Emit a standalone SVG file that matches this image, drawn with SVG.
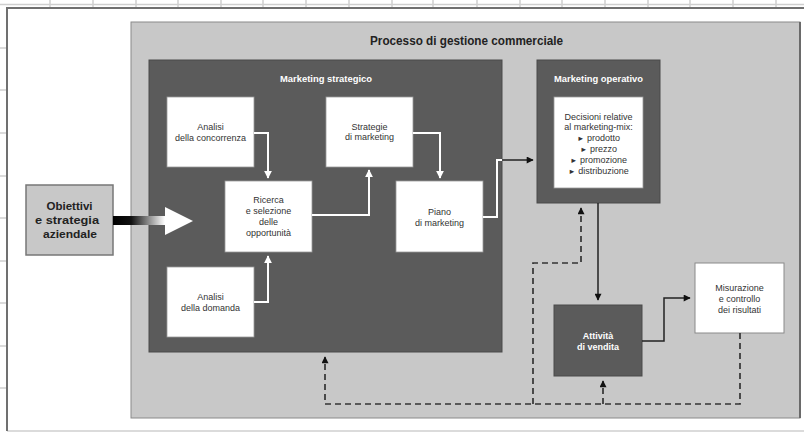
<svg xmlns="http://www.w3.org/2000/svg" width="804" height="433" viewBox="0 0 804 433">
  <style>
    .grid { stroke: #cfcfcf; stroke-width: 1.5; fill: none; }
    .frame { stroke: #707070; stroke-width: 2; fill: none; }
    .panel { fill: #c8c8c8; stroke: #8a8a8a; stroke-width: 1; }
    .dark { fill: #5b5b5b; stroke: #4a4a4a; stroke-width: 1; }
    .white { fill: #ffffff; stroke: #9a9a9a; stroke-width: 0.8; }
    .t { font-family: "Liberation Sans", Arial, sans-serif; font-size: 9px; fill: #333333; text-anchor: middle; }
    .tw { font-family: "Liberation Sans", Arial, sans-serif; font-size: 9px; font-weight: bold; fill: #ffffff; text-anchor: middle; }
    .tb { font-family: "Liberation Sans", Arial, sans-serif; font-weight: bold; fill: #222222; text-anchor: middle; }
    .wl { stroke: #ffffff; stroke-width: 2; fill: none; }
    .bl { stroke: #222222; stroke-width: 1.5; fill: none; }
    .dl { stroke: #333333; stroke-width: 1.7; fill: none; stroke-dasharray: 6 4; }
  </style>
  <defs>
    <marker id="arrW" viewBox="0 0 10 10" refX="9" refY="5" markerWidth="8" markerHeight="8" markerUnits="userSpaceOnUse" orient="auto">
      <path d="M0,0 L10,5 L0,10 z" fill="#ffffff"/>
    </marker>
    <marker id="arrB" viewBox="0 0 10 10" refX="9" refY="5" markerWidth="8" markerHeight="7" markerUnits="userSpaceOnUse" orient="auto">
      <path d="M0,0 L10,5 L0,10 z" fill="#111111"/>
    </marker>
    <linearGradient id="fade" x1="113" y1="0" x2="165" y2="0" gradientUnits="userSpaceOnUse">
      <stop offset="0" stop-color="#000000"/>
      <stop offset="0.35" stop-color="#111111"/>
      <stop offset="1" stop-color="#ffffff"/>
    </linearGradient>
  </defs>

  <!-- sheet background and grid -->
  <rect x="0" y="0" width="804" height="433" fill="#ffffff"/>
  <g id="grid">
    <line class="grid" x1="0" y1="4.5" x2="804" y2="4.5"/>
    <path class="grid" d="M50,0V9 M93,0V9 M136,0V9 M178,0V9 M221,0V9 M263,0V9 M306,0V9 M349,0V9 M392,0V9 M433,0V9 M477,0V9 M520,0V9 M562,0V9 M605,0V9 M648,0V9 M690,0V9 M733,0V9 M776,0V9"/>
    <path class="grid" d="M0,48H7 M0,90H7 M0,133H7 M0,176H7 M0,218H7 M0,261H7 M0,303H7 M0,346H7 M0,388H7"/>
    <line class="grid" x1="7" y1="431" x2="804" y2="431" stroke-width="2"/>
    <path class="frame" d="M7,431 V8 H804"/>
  </g>

  <!-- outer process panel -->
  <g id="processo">
    <rect class="panel" x="131" y="22" width="669" height="396"/>
    <line x1="800" y1="22" x2="800" y2="418" stroke="#6a6a6a" stroke-width="2"/>
    <text class="tb" x="466.5" y="45" font-size="12.5" textLength="193" lengthAdjust="spacingAndGlyphs">Processo di gestione commerciale</text>
  </g>

  <g id="marketing-strategico">
    <rect class="dark" x="149" y="60" width="353" height="292"/>
    <text class="tw" x="326" y="82" textLength="92" lengthAdjust="spacingAndGlyphs">Marketing strategico</text>
  </g>

  <g id="marketing-operativo">
    <rect class="dark" x="537" y="60" width="123" height="143"/>
    <text class="tw" x="598.5" y="82" textLength="89" lengthAdjust="spacingAndGlyphs">Marketing operativo</text>
  </g>

  <g id="obiettivi">
    <rect x="26" y="185" width="87" height="70" fill="#c8c8c8" stroke="#777777" stroke-width="1.5"/>
    <text class="tb" font-size="11.5" x="69.5" y="210" textLength="46" lengthAdjust="spacingAndGlyphs">Obiettivi</text>
    <text class="tb" font-size="11.5" x="67" y="224" textLength="64" lengthAdjust="spacingAndGlyphs">e strategia</text>
    <text class="tb" font-size="11.5" x="70" y="238" textLength="54" lengthAdjust="spacingAndGlyphs">aziendale</text>
  </g>

  <g id="analisi-concorrenza">
    <rect class="white" x="167" y="97" width="87" height="70"/>
    <text class="t" x="210.5" y="130">Analisi</text>
    <text class="t" x="210.5" y="140.5">della concorrenza</text>
  </g>

  <g id="strategie">
    <rect class="white" x="326" y="97" width="87" height="70"/>
    <text class="t" x="369.5" y="130">Strategie</text>
    <text class="t" x="369.5" y="140">di marketing</text>
  </g>

  <g id="ricerca">
    <rect class="white" x="225" y="181" width="87" height="71"/>
    <text class="t" x="268.5" y="203">Ricerca</text>
    <text class="t" x="268.5" y="214">e selezione</text>
    <text class="t" x="268.5" y="225">delle</text>
    <text class="t" x="268.5" y="236">opportunità</text>
  </g>

  <g id="piano">
    <rect class="white" x="396" y="181" width="87" height="71"/>
    <text class="t" x="439.5" y="214.5">Piano</text>
    <text class="t" x="439.5" y="225.5">di marketing</text>
  </g>

  <g id="analisi-domanda">
    <rect class="white" x="167" y="267" width="87" height="70"/>
    <text class="t" x="210.5" y="299.5">Analisi</text>
    <text class="t" x="210.5" y="310.5">della domanda</text>
  </g>

  <g id="decisioni">
    <rect class="white" x="554" y="97" width="89" height="91"/>
    <text class="t" x="598.5" y="119.5">Decisioni relative</text>
    <text class="t" x="598.5" y="130.3">al marketing-mix:</text>
    <text class="t" x="598.5" y="141"><tspan font-size="7.5">►</tspan> prodotto</text>
    <text class="t" x="598.5" y="151.7"><tspan font-size="7.5">►</tspan> prezzo</text>
    <text class="t" x="598.5" y="162.5"><tspan font-size="7.5">►</tspan> promozione</text>
    <text class="t" x="598.5" y="173.5"><tspan font-size="7.5">►</tspan> distribuzione</text>
  </g>

  <g id="attivita-vendita">
    <rect class="dark" x="554" y="305" width="88" height="71"/>
    <text class="tw" x="598" y="338.5">Attività</text>
    <text class="tw" x="598" y="350">di vendita</text>
  </g>

  <g id="misurazione">
    <rect x="695" y="263" width="89" height="70" fill="#ffffff" stroke="#8a8a8a" stroke-width="1"/>
    <text class="t" x="739.5" y="291">Misurazione</text>
    <text class="t" x="739.5" y="302">e controllo</text>
    <text class="t" x="739.5" y="313">dei risultati</text>
  </g>

  <g id="connectors">
    <!-- strategic input arrow -->
    <rect x="113" y="216" width="54" height="9" fill="url(#fade)"/>
    <polygon points="165,207 193,221 165,235" fill="#ffffff"/>

    <!-- flows inside marketing strategico -->
    <path class="wl" d="M254,133 H268 V178" marker-end="url(#arrW)"/>
    <path class="wl" d="M254,302 H268 V256" marker-end="url(#arrW)"/>
    <path class="wl" d="M312,215 H369 V170" marker-end="url(#arrW)"/>
    <path class="wl" d="M413,133 H440 V178" marker-end="url(#arrW)"/>
    <path class="wl" d="M483,217 H497 V160 H502.5"/>
    <path class="bl" d="M502,160 H533" marker-end="url(#arrB)"/>

    <!-- operational flows -->
    <path class="bl" d="M598,203 V300" marker-end="url(#arrB)"/>
    <path class="bl" d="M642,341 H664 V298 H690" marker-end="url(#arrB)"/>

    <!-- feedback loops -->
    <path class="dl" d="M740,333 V404 H325 V357" marker-end="url(#arrB)"/>
    <path class="dl" d="M533,404 V263 H581 V208" marker-end="url(#arrB)"/>
    <path class="dl" d="M603,404 V381" marker-end="url(#arrB)"/>
  </g>
</svg>
